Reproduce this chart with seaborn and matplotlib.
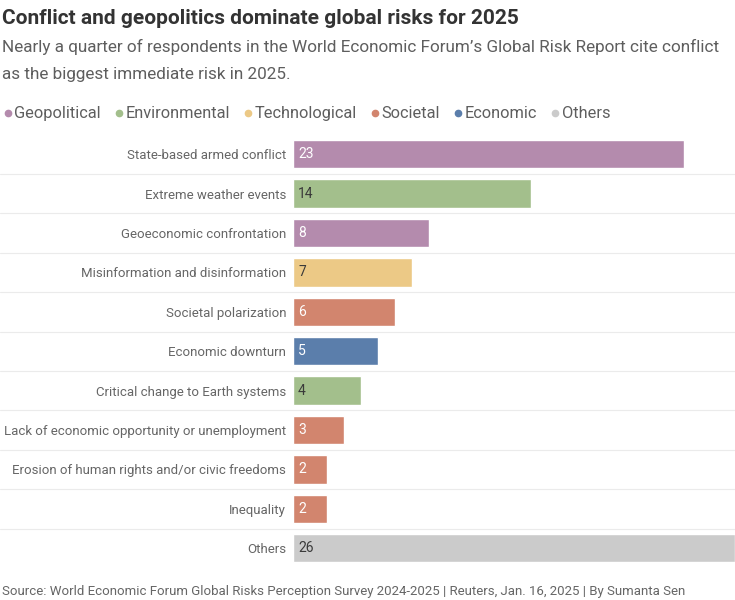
import seaborn as sns
import matplotlib.pyplot as plt
from matplotlib.lines import Line2D
import pandas as pd

# Data
risks = ['State-based armed conflict', 'Extreme weather events', 'Geoeconomic confrontation',
         'Misinformation and disinformation', 'Societal polarization', 'Economic downturn',
         'Critical change to Earth systems', 'Lack of economic opportunity or unemployment',
         'Erosion of human rights and/or civic freedoms', 'Inequality', 'Others']
shares = [23, 14, 8, 7, 6, 5, 4, 3, 2, 2, 26]
groups = ['Geopolitical', 'Environmental', 'Geopolitical', 'Technological', 'Societal', 'Economic',
          'Environmental', 'Societal', 'Societal', 'Societal', 'Others']
group_order = ['Geopolitical', 'Environmental', 'Technological', 'Societal', 'Economic', 'Others']

palette = {'Geopolitical': '#b48bad', 'Environmental': '#a3bf8c', 'Technological': '#ecc986',
           'Societal': '#d2856e', 'Economic': '#5b7eab', 'Others': '#cbcbcb'}
dark_text = {'Environmental', 'Technological', 'Others'}

TEXT = '#5e5e5e'

df = pd.DataFrame({'risk': risks, 'share': shares, 'group': groups})

sns.set_style('white')
plt.rcParams['font.family'] = ['Roboto', 'DejaVu Sans']

fig = plt.figure(figsize=(7.35, 6), dpi=100)
ax = fig.add_axes([293 / 735, 1 - 568 / 600, 442 / 735, (568 - 134.5) / 600])

sns.barplot(data=df, x='share', y='risk', hue='group', palette=palette, dodge=False, saturation=1,
            order=risks, hue_order=group_order, width=0.72, legend=False, ax=ax, zorder=2)

ax.set_xlim(0, 26)
ax.set_ylim(len(risks) - 0.5, -0.5)
ax.set_xlabel('')
ax.set_ylabel('')
ax.set_xticks([])
sns.despine(ax=ax, left=True, bottom=True)
ax.tick_params(axis='y', length=0, pad=5, labelsize=9.5, labelcolor='#666666')

# row separators across the full width
for i in range(len(risks) - 1):
    ax.axhline(i + 0.5, xmin=-293 / 442, xmax=1, color='#ebebeb', lw=0.8, clip_on=False, zorder=1)

# value labels inside the bars
for i, (v, g) in enumerate(zip(shares, groups)):
    ax.text(0.3, i, str(v), va='center', ha='left', fontsize=10,
            color='#3a3a3a' if g in dark_text else 'white', zorder=3)

# titles
fig.text(0.003, 1 - 18 / 600, 'Conflict and geopolitics dominate global risks for 2025',
         fontsize=15, fontweight='bold', color='#333333', va='center')
fig.text(0.003, 1 - 47 / 600,
         'Nearly a quarter of respondents in the World Economic Forum\u2019s Global Risk Report cite conflict',
         fontsize=12.3, color=TEXT, va='center')
fig.text(0.003, 1 - 75 / 600, 'as the biggest immediate risk in 2025.',
         fontsize=12.3, color=TEXT, va='center')

# legend
handles = [Line2D([], [], marker='o', ls='', markersize=4.5, color=palette[g], label=g) for g in group_order]
fig.legend(handles=handles, loc='center left', bbox_to_anchor=(-0.006, 1 - 114 / 600), ncol=6,
           frameon=False, fontsize=11.8, handletextpad=0.05, columnspacing=0.75, labelcolor=TEXT,
           borderaxespad=0, handlelength=0.7)

fig.text(0.003, 1 - 592 / 600,
         'Source: World Economic Forum Global Risks Perception Survey 2024-2025 | Reuters, Jan. 16, 2025 | By Sumanta Sen',
         fontsize=9.5, color='#666666', va='center')

plt.savefig('out.png', dpi=100)
